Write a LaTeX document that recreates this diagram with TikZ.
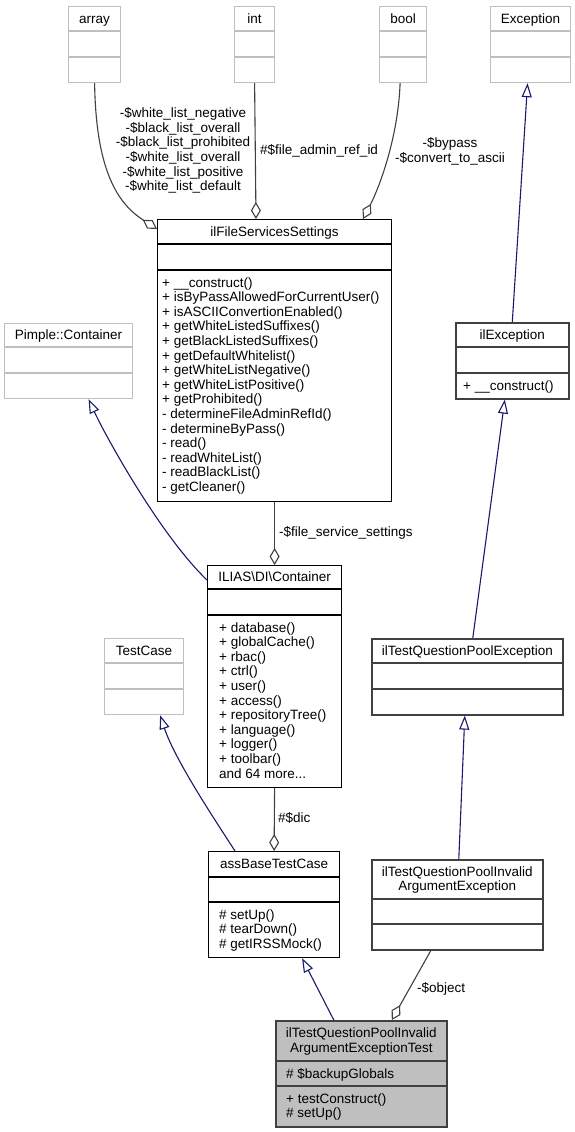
\documentclass[tikz,border=0pt]{standalone}
\usepackage{fontspec}
\setmainfont{Liberation Sans}
\usetikzlibrary{arrows.meta,calc}
\definecolor{grey75}{HTML}{BFBFBF}
\definecolor{midblue}{HTML}{191970}
\definecolor{grey25}{HTML}{404040}
\newcommand{\lst}[1]{\begin{tabular}[t]{@{}l@{}}#1\end{tabular}}
\newcommand{\cst}[1]{\begin{tabular}[t]{@{}c@{}}#1\end{tabular}}
\newcommand{\seclines}[4]{%
  \draw[#1] ($(#2.north west)+(0,#3)$) -- ($(#2.north east)+(0,#3)$);
  \draw[#1] ($(#2.north west)+(0,#4)$) -- ($(#2.north east)+(0,#4)$);}
\begin{document}
\begin{tikzpicture}[x=1pt,y=-1pt,
  umlbox/.style={rectangle, draw=black, line width=1.2pt, inner sep=0pt, anchor=north west, fill=white},
  gbox/.style={umlbox, draw=grey75},
  dbox/.style={umlbox, draw=black!75, line width=1.6pt},
  bline/.style={draw=black, line width=1.2pt},
  gline/.style={draw=grey75, line width=1.2pt},
  dline/.style={draw=black!75, line width=1.6pt},
  txt/.style={inner sep=0pt, font=\fontsize{13.5}{14.6}\selectfont},
  inh/.style={draw=midblue, line width=1.1pt, -{Triangle[open, length=14pt, width=10pt]}},
  comp/.style={draw=grey25, line width=1.1pt, -{Diamond[open, length=17pt, width=10pt]}}]
\useasboundingbox (0,0) rectangle (574,1132);
\fill[white] (0,0) rectangle (574,1132);

% ---- boxes ----
\node[gbox, minimum width=52pt, minimum height=76pt] (array) at (68,6) {};
\seclines{gline}{array}{25}{51}
\node[gbox, minimum width=40pt, minimum height=76pt] (int) at (234,6) {};
\seclines{gline}{int}{25}{51}
\node[gbox, minimum width=47pt, minimum height=76pt] (bool) at (379,6) {};
\seclines{gline}{bool}{25}{51}
\node[gbox, minimum width=80pt, minimum height=76pt] (exception) at (490,6) {};
\seclines{gline}{exception}{25}{51}
\node[umlbox, minimum width=234pt, minimum height=282pt] (fss) at (157,219) {};
\seclines{bline}{fss}{25}{51}
\node[gbox, minimum width=128pt, minimum height=75pt] (pimple) at (4,323) {};
\seclines{gline}{pimple}{24}{50}
\node[dbox, minimum width=113pt, minimum height=76pt] (ilexc) at (455,322) {};
\seclines{dline}{ilexc}{25}{51}
\node[umlbox, minimum width=134pt, minimum height=222pt] (ilias) at (207,565) {};
\seclines{bline}{ilias}{24}{50}
\node[gbox, minimum width=79pt, minimum height=76pt] (testcase) at (104,638) {};
\seclines{gline}{testcase}{25}{51}
\node[dbox, minimum width=191pt, minimum height=76pt] (iltqpe) at (371,638) {};
\seclines{dline}{iltqpe}{25}{51}
\node[umlbox, minimum width=131pt, minimum height=106pt] (assbase) at (208,851) {};
\seclines{bline}{assbase}{26}{51}
\node[dbox, minimum width=171pt, minimum height=90pt] (iltqpiae) at (371,859) {};
\seclines{dline}{iltqpiae}{40}{65}
\node[dbox, fill=grey75, minimum width=171pt, minimum height=106pt] (test) at (275,1020) {};
\seclines{dline}{test}{41}{66}

% ---- titles ----
\node[txt, anchor=base] (array-t) at ($(array.north)+(0,17.1)$) {array};
\node[txt, anchor=base] (int-t) at ($(int.north)+(0,17.1)$) {int};
\node[txt, anchor=base] (bool-t) at ($(bool.north)+(0,17.1)$) {bool};
\node[txt, anchor=base] (exception-t) at ($(exception.north)+(0,17.1)$) {Exception};
\node[txt, anchor=base] (fss-t) at ($(fss.north)+(0,17.1)$) {ilFileServicesSettings};
\node[txt, anchor=base] (pimple-t) at ($(pimple.north)+(0,16.6)$) {Pimple::Container};
\node[txt, anchor=base] (ilexc-t) at ($(ilexc.north)+(0,17.1)$) {ilException};
\node[txt, anchor=base] (ilias-t) at ($(ilias.north)+(0,16.6)$) {ILIAS\textbackslash DI\textbackslash Container};
\node[txt, anchor=base] (testcase-t) at ($(testcase.north)+(0,17.1)$) {TestCase};
\node[txt, anchor=base] (iltqpe-t) at ($(iltqpe.north)+(0,17.1)$) {ilTestQuestionPoolException};
\node[txt, anchor=base] (assbase-t) at ($(assbase.north)+(0,17.6)$) {assBaseTestCase};
\node[txt, anchor=base] (iltqpiae-t) at ($(iltqpiae.north)+(0,17.3)$) {\cst{ilTestQuestionPoolInvalid\\ArgumentException}};
\node[txt, anchor=base] (test-t) at ($(test.north)+(0,17.8)$) {\cst{ilTestQuestionPoolInvalid\\ArgumentExceptionTest}};

% ---- members ----
\node[txt, anchor=base west] (fss-m) at ($(fss.north west)+(5,68)$) {\lst{%
+ \_\_construct()\\
+ isByPassAllowedForCurrentUser()\\
+ isASCIIConvertionEnabled()\\
+ getWhiteListedSuffixes()\\
+ getBlackListedSuffixes()\\
+ getDefaultWhitelist()\\
+ getWhiteListNegative()\\
+ getWhiteListPositive()\\
+ getProhibited()\\
- determineFileAdminRefId()\\
- determineByPass()\\
- read()\\
- readWhiteList()\\
- readBlackList()\\
- getCleaner()}};
\node[txt, anchor=base west] (ilexc-m) at ($(ilexc.north west)+(8,68.1)$) {+ \_\_construct()};
\node[txt, anchor=base west] (ilias-m) at ($(ilias.north west)+(12,67)$) {\lst{%
+ database()\\
+ globalCache()\\
+ rbac()\\
+ ctrl()\\
+ user()\\
+ access()\\
+ repositoryTree()\\
+ language()\\
+ logger()\\
+ toolbar()\\
and 64 more...}};
\node[txt, anchor=base west] (assbase-m) at ($(assbase.north west)+(11,68)$) {\lst{%
\# setUp()\\
\# tearDown()\\
\# getIRSSMock()}};
\node[txt, anchor=base west] (test-a) at ($(test.north west)+(11,58.1)$) {\# \$backupGlobals};
\node[txt, anchor=base west] (test-m) at ($(test.north west)+(11,83.3)$) {\lst{%
+ testConstruct()\\
\# setUp()}};

% ---- connectors ----
\draw[comp] (array.south) .. controls (96,175) and (120,205) .. ($(fss.north west)+(0,10)$);
\draw[comp] (int.south) -- ($(fss.north west)+(99,0)$);
\draw[comp] ($(bool.south)+(-3,0)$) .. controls (398,140) and (378,190) .. ($(fss.north west)+(206,0)$);
\draw[inh] (ilexc.north) -- ($(exception.south)+(-3,0)$);
\draw[inh] ($(ilias.north west)+(0,15)$) .. controls (160,535) and (105,435) .. ($(pimple.south)+(20,0)$);
\draw[comp] (fss.south) -- (ilias.north);
\draw[inh] ($(iltqpe.north)+(5.5,0)$) -- ($(ilexc.south)+(-7.5,0)$);
\draw[inh] ($(assbase.north west)+(27,0)$) .. controls (215,820) and (175,760) .. ($(testcase.south)+(16,0)$);
\draw[comp] (ilias.south) -- (assbase.north);
\draw[inh] ($(iltqpiae.north)+(1.5,0)$) -- ($(iltqpe.south)+(-2.5,0)$);
\draw[inh] ($(test.north)+(-27.5,0)$) -- ($(assbase.south)+(28,0)$);
\draw[comp] ($(iltqpiae.south)+(-26.5,0)$) -- ($(test.north)+(30.5,0)$);

% ---- connector labels ----
\node[txt, anchor=base] (lbl-array) at (183,117.6) {\cst{%
-\$white\_list\_negative\\
-\$black\_list\_overall\\
-\$black\_list\_prohibited\\
-\$white\_list\_overall\\
-\$white\_list\_positive\\
-\$white\_list\_default}};
\node[txt, anchor=base west] (lbl-int) at (260,154.6) {\#\$file\_admin\_ref\_id};
\node[txt, anchor=base] (lbl-bool) at (450,147.6) {\cst{-\$bypass\\-\$convert\_to\_ascii}};
\node[txt, anchor=base west] (lbl-fss) at (279,536.6) {-\$file\_service\_settings};
\node[txt, anchor=base west] (lbl-dic) at (278,822.6) {\#\$dic};
\node[txt, anchor=base west] (lbl-obj) at (417,992.6) {-\$object};
\end{tikzpicture}
\end{document}
